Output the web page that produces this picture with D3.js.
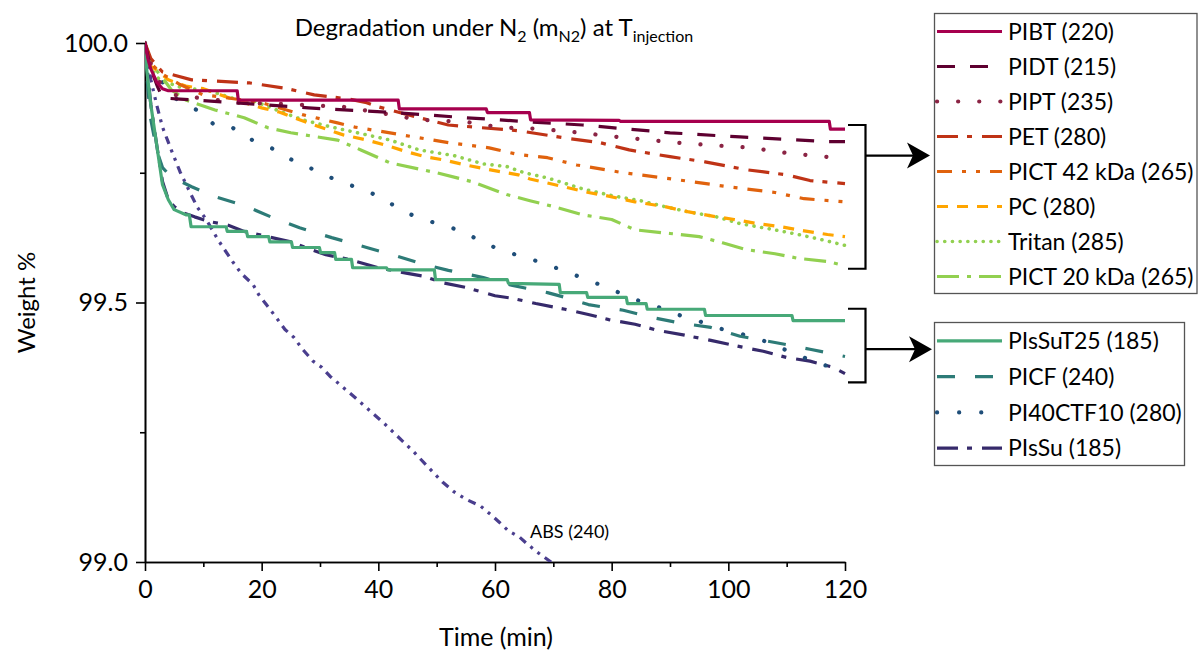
<!DOCTYPE html>
<html>
<head>
<meta charset="utf-8">
<script src="https://cdn.jsdelivr.net/npm/d3@7"></script>
<style>
  html, body { margin: 0; padding: 0; background: #fff; }
  svg { display: block; font-family: Lato, "Open Sans", sans-serif; }
</style>
</head>
<body>
<svg id="chart" width="1203" height="655"></svg>
<script>
// ---- Weight loss (wt %) vs. time (min) under N2 at the injection temperature ----
const pibt = [[0,100],[0.5,99.97],[1,99.95],[2,99.925],[3,99.912],[4,99.908],[15.8,99.908],[16,99.89],[43.4,99.89],[43.6,99.873],[58.5,99.873],[58.7,99.866],[65.9,99.866],[66.1,99.852],[81.3,99.851],[81.5,99.849],[117.3,99.849],[117.5,99.834],[120,99.834]];
const pidt = [[0,100],[1,99.95],[2,99.92],[3,99.894],[6,99.892],[15,99.885],[28,99.875],[44,99.865],[55,99.856],[66,99.848],[75,99.842],[80,99.837],[90,99.827],[102,99.819],[117,99.81],[120,99.81]];
const pipt = [[0,100],[1,99.96],[2,99.93],[5,99.9],[16,99.885],[25,99.882],[34,99.877],[40,99.866],[47,99.852],[55,99.848],[61,99.837],[67,99.835],[73,99.829],[81,99.819],[91,99.808],[104,99.798],[110,99.788],[120,99.777]];
const pet = [[0,100],[1,99.97],[3,99.944],[8,99.929],[18,99.923],[24,99.913],[29,99.9],[35,99.892],[38,99.885],[40,99.877],[47,99.856],[52,99.842],[64,99.831],[72,99.817],[78,99.808],[83,99.794],[90,99.781],[96,99.771],[103,99.756],[110,99.746],[114,99.735],[120,99.729]];
const pict42 = [[0,100],[1,99.96],[3,99.94],[6,99.92],[10,99.9],[13,99.896],[20,99.885],[27,99.862],[33,99.846],[36,99.838],[44,99.823],[52,99.808],[59,99.798],[64,99.785],[69,99.779],[74,99.765],[82,99.75],[91,99.737],[100,99.723],[108,99.712],[113,99.7],[120,99.694]];
const pc = [[0,100],[1,99.955],[2,99.948],[4,99.929],[7,99.917],[10,99.912],[13,99.9],[15,99.892],[20,99.875],[23,99.867],[25.5,99.856],[30,99.838],[34,99.823],[38,99.813],[41,99.804],[45,99.79],[48,99.781],[51,99.775],[55,99.765],[59,99.756],[64,99.746],[66,99.738],[71,99.725],[76,99.712],[79,99.706],[84,99.694],[89,99.685],[93,99.675],[98,99.665],[101,99.66],[105,99.652],[109,99.646],[113,99.638],[117,99.631],[120,99.627]];
const tritan = [[0,100],[1,99.95],[2.5,99.929],[6,99.915],[11,99.908],[16,99.89],[19,99.887],[23,99.869],[27,99.852],[32,99.838],[38,99.823],[42,99.813],[47,99.794],[53,99.783],[58,99.767],[62,99.762],[65,99.75],[69,99.74],[75,99.719],[80,99.706],[85,99.696],[89,99.685],[93,99.675],[98,99.665],[102,99.652],[107,99.642],[112,99.631],[116,99.621],[120,99.61]];
const pict20 = [[0,100],[1,99.96],[3,99.933],[4.5,99.91],[7,99.89],[12,99.871],[17,99.856],[21,99.837],[25,99.827],[33,99.813],[37,99.794],[42,99.769],[50,99.75],[56,99.733],[62,99.708],[66,99.696],[70,99.685],[75,99.669],[80,99.66],[84,99.64],[90,99.633],[95,99.627],[99,99.615],[103,99.602],[108,99.594],[112,99.585],[117,99.579],[120,99.571]];
const pissut25 = [[0,100],[0.3,99.948],[1,99.881],[2,99.804],[3,99.727],[4,99.698],[5,99.679],[7,99.669],[7.6,99.669],[7.9,99.646],[13.9,99.646],[14.1,99.637],[17.4,99.637],[17.6,99.627],[21.2,99.627],[21.4,99.617],[25.1,99.617],[25.3,99.606],[29.9,99.606],[30.1,99.596],[32.5,99.596],[32.7,99.583],[35.4,99.583],[35.6,99.567],[41.4,99.567],[41.6,99.563],[49.6,99.563],[49.8,99.544],[62.1,99.544],[62.3,99.537],[71,99.535],[71.2,99.519],[75.7,99.519],[75.9,99.51],[82.5,99.51],[82.7,99.498],[85.9,99.498],[86.1,99.487],[95.9,99.487],[96.1,99.475],[110.9,99.475],[111.1,99.465],[120,99.465]];
const picf = [[0,100],[0.5,99.91],[1,99.852],[2,99.794],[3,99.76],[4.5,99.742],[8,99.723],[12,99.704],[17,99.687],[22,99.663],[26.5,99.644],[32,99.625],[38,99.606],[43,99.59],[48,99.573],[52,99.562],[58,99.548],[63,99.533],[69,99.519],[72,99.51],[76,99.496],[82,99.485],[87,99.471],[92,99.46],[97,99.452],[102,99.435],[108,99.423],[114,99.41],[120,99.396]];
const pi40ctf10 = [[0,100],[0.5,99.963],[1,99.956],[4.8,99.896],[7.4,99.879],[10,99.865],[12,99.84],[15,99.837],[17.5,99.817],[20.5,99.804],[23,99.79],[26,99.769],[29,99.756],[32,99.74],[35,99.727],[38,99.715],[40.5,99.702],[42.5,99.688],[44.5,99.675],[46.5,99.665],[49.5,99.654],[52.5,99.644],[55,99.635],[57.5,99.617],[60,99.606],[63,99.594],[66,99.585],[68.5,99.573],[71,99.565],[73.5,99.554],[76.5,99.54],[79,99.531],[82,99.515],[84.5,99.504],[87,99.496],[89.7,99.483],[92.3,99.473],[95.5,99.462],[97.7,99.452],[101.5,99.442],[104,99.433],[107,99.423],[109.5,99.41],[112,99.4],[114.5,99.385],[117.3,99.377],[120,99.363]];
const pissu = [[0,100],[0.3,99.96],[1,99.881],[2,99.804],[3,99.733],[4,99.698],[5,99.685],[6.5,99.673],[8.5,99.665],[11,99.656],[14,99.65],[17,99.637],[21,99.627],[25,99.617],[27.5,99.606],[31,99.592],[35,99.583],[40,99.567],[45,99.556],[48,99.55],[51,99.538],[55,99.529],[60,99.513],[63,99.508],[67,99.498],[72,99.487],[76,99.477],[79.5,99.467],[84,99.458],[88,99.446],[92.5,99.437],[97,99.427],[102,99.415],[106,99.406],[110,99.394],[114,99.387],[118,99.375],[120,99.363]];
const abs = [[0,100],[1,99.929],[2,99.881],[3,99.838],[4.5,99.794],[6,99.752],[7.5,99.717],[9,99.683],[10.5,99.66],[12.5,99.621],[15,99.579],[16.5,99.556],[18.5,99.535],[19.5,99.515],[20.8,99.496],[22.5,99.471],[24,99.448],[25.5,99.433],[27,99.41],[28.8,99.387],[30.3,99.375],[31.7,99.358],[36,99.317],[41,99.267],[46,99.213],[51,99.154],[53,99.135],[55,99.121],[57.5,99.108],[59.2,99.092],[60.5,99.079],[62.3,99.06],[64.2,99.048],[65.7,99.033],[67.5,99.017],[69.6,99.0],[71,98.99]];

// legend labels, one list per group
const groupHigh = ["PIBT (220)","PIDT (215)","PIPT (235)","PET (280)","PICT 42 kDa (265)","PC (280)","Tritan (285)","PICT 20 kDa (265)"];
const groupLow = ["PIsSuT25 (185)","PICF (240)","PI40CTF10 (280)","PIsSu (185)"];
const absLabel = "ABS (240)";

// axis ticks
const xMajor = [0,20,40,60,80,100,120];
const xMinor = [10,30,50,70,90,110];
const yMajor = [99.0,99.5,100.0];
const yMinor = [99.25,99.75];

// series table: values + drawing style
const seriesData = {
  "PIBT (220)": pibt, "PIDT (215)": pidt, "PIPT (235)": pipt, "PET (280)": pet,
  "PICT 42 kDa (265)": pict42, "PC (280)": pc, "Tritan (285)": tritan, "PICT 20 kDa (265)": pict20,
  "PIsSuT25 (185)": pissut25, "PICF (240)": picf, "PI40CTF10 (280)": pi40ctf10, "PIsSu (185)": pissu,
  "ABS (240)": abs
};
const styles = {
  "PIBT (220)":        { color: "#a6004e", dash: null,               cap: "butt" },
  "PIDT (215)":        { color: "#5e0030", dash: "18,15",            cap: "butt" },
  "PIPT (235)":        { color: "#8b2444", dash: "0.1,21",           cap: "round", w: 4.2 },
  "PET (280)":         { color: "#bf3316", dash: "21,9,5,10",        cap: "butt" },
  "PICT 42 kDa (265)": { color: "#e0620d", dash: "15,10,4,10,4,10",  cap: "butt" },
  "PC (280)":          { color: "#ffa500", dash: "11,9",             cap: "butt" },
  "Tritan (285)":      { color: "#92d050", dash: "0.1,7.6",          cap: "round", w: 3.6 },
  "PICT 20 kDa (265)": { color: "#92d050", dash: "22,8,4,8",         cap: "butt" },
  "PIsSuT25 (185)":    { color: "#47a978", dash: null,               cap: "butt" },
  "PICF (240)":        { color: "#2d7b77", dash: "18,20",            cap: "butt" },
  "PI40CTF10 (280)":   { color: "#1f4e79", dash: "0.1,22",           cap: "round", w: 4.2 },
  "PIsSu (185)":       { color: "#362a6b", dash: "21,9,5,10",        cap: "butt" },
  "ABS (240)":         { color: "#4a3e8e", dash: "8,6,3,6,3,6",      cap: "butt" }
};

const svg = d3.select("#chart");
const x = d3.scaleLinear().domain([0, 120]).range([145, 845]);
const y = d3.scaleLinear().domain([99, 100]).range([562, 43]);

// plot-area clip so curves stop at the axes
svg.append("defs").append("clipPath").attr("id", "plotClip")
  .append("rect").attr("x", x(0)).attr("y", y(100) - 6)
  .attr("width", x(120) - x(0) + 4).attr("height", y(99) - y(100) + 6);

// title
const title = svg.append("text").attr("x", 494).attr("y", 36)
  .attr("text-anchor", "middle").attr("font-size", 24).attr("fill", "#000");
title.append("tspan").text("Degradation under N");
title.append("tspan").attr("font-size", 16).attr("dy", 6).text("2");
title.append("tspan").attr("dy", -6).text(" (m");
title.append("tspan").attr("font-size", 16).attr("dy", 6).text("N2");
title.append("tspan").attr("dy", -6).text(") at T");
title.append("tspan").attr("font-size", 16).attr("dy", 6).text("injection");

// axes
function styleAxis(g) {
  g.selectAll("path.domain").attr("stroke", "#000").attr("stroke-width", 1.6);
  g.selectAll(".tick line").attr("stroke", "#000").attr("stroke-width", 1.6);
  g.selectAll(".tick text").attr("fill", "#000").attr("font-size", 25).attr("font-family", "Lato, sans-serif");
}
const gx = svg.append("g").attr("transform", `translate(0,${y(99)})`)
  .call(d3.axisBottom(x).tickValues(xMajor).tickFormat(d3.format("d")).tickSize(9).tickSizeOuter(0).tickPadding(9));
styleAxis(gx);
const gxm = svg.append("g").attr("transform", `translate(0,${y(99)})`)
  .call(d3.axisBottom(x).tickValues(xMinor).tickFormat("").tickSize(5).tickSizeOuter(0));
styleAxis(gxm);
const gy = svg.append("g").attr("transform", `translate(${x(0)},0)`)
  .call(d3.axisLeft(y).tickValues(yMajor).tickFormat(d3.format(".1f")).tickSize(9).tickSizeOuter(0).tickPadding(8));
styleAxis(gy);
const gym = svg.append("g").attr("transform", `translate(${x(0)},0)`)
  .call(d3.axisLeft(y).tickValues(yMinor).tickFormat("").tickSize(5).tickSizeOuter(0));
styleAxis(gym);

svg.append("text").attr("x", 496).attr("y", 646).attr("text-anchor", "middle")
  .attr("font-size", 25).attr("fill", "#000").text("Time (min)");
svg.append("text").attr("transform", `translate(35,${y(99.5)}) rotate(-90)`)
  .attr("text-anchor", "middle").attr("font-size", 24).attr("fill", "#000").text("Weight %");

// curves
const line = d3.line().x(d => x(d[0])).y(d => y(d[1]));
const drawOrder = ["ABS (240)", ...groupLow.slice().reverse(), ...groupHigh.slice().reverse()];
const plot = svg.append("g").attr("clip-path", "url(#plotClip)");
drawOrder.forEach(name => {
  const s = styles[name];
  plot.append("path").datum(seriesData[name])
    .attr("d", line).attr("fill", "none")
    .attr("stroke", s.color).attr("stroke-width", s.w || 3.2)
    .attr("stroke-linecap", s.cap).attr("stroke-linejoin", "round")
    .attr("stroke-dasharray", s.dash);
});

svg.append("text").attr("x", 530).attr("y", 538).attr("font-size", 18)
  .attr("fill", "#000").text(absLabel);

// legends
function legend(names, top, bottom, right) {
  const g = svg.append("g");
  g.append("rect").attr("x", 934.5).attr("y", top).attr("width", right - 934.5)
    .attr("height", bottom - top).attr("fill", "#fff").attr("stroke", "#555").attr("stroke-width", 1.3);
  const step = (bottom - top) / names.length;
  names.forEach((name, i) => {
    const s = styles[name];
    const cy = top + step * (i + 0.5) + 0.5;
    g.append("line").attr("x1", 937).attr("x2", 1002).attr("y1", cy).attr("y2", cy)
      .attr("stroke", s.color).attr("stroke-width", s.w || 3.2)
      .attr("stroke-linecap", s.cap).attr("stroke-dasharray", s.dash);
    g.append("text").attr("x", 1008).attr("y", cy).attr("dy", "0.36em")
      .attr("font-size", 23).attr("fill", "#000").text(name);
  });
}
legend(groupHigh, 13.5, 293.5, 1197);
legend(groupLow, 322.5, 465.5, 1184.5);

// brackets with arrows pointing to each legend
function bracket(vTop, vBottom, vArrow, xTip) {
  const xb = 865.5, xl = 848;
  svg.append("path")
    .attr("d", `M${xl},${y(vTop)}H${xb}V${y(vBottom)}H${xl}M${xb},${y(vArrow)}H${xTip - 16}`)
    .attr("fill", "none").attr("stroke", "#000").attr("stroke-width", 2.2);
  const ya = y(vArrow);
  svg.append("path")
    .attr("d", `M${xTip},${ya}L${xTip - 23},${ya - 13}L${xTip - 17},${ya}L${xTip - 23},${ya + 13}Z`)
    .attr("fill", "#000");
}
bracket(99.842, 99.565, 99.783, 930);
bracket(99.488, 99.346, 99.41, 932);
</script>
</body>
</html>
